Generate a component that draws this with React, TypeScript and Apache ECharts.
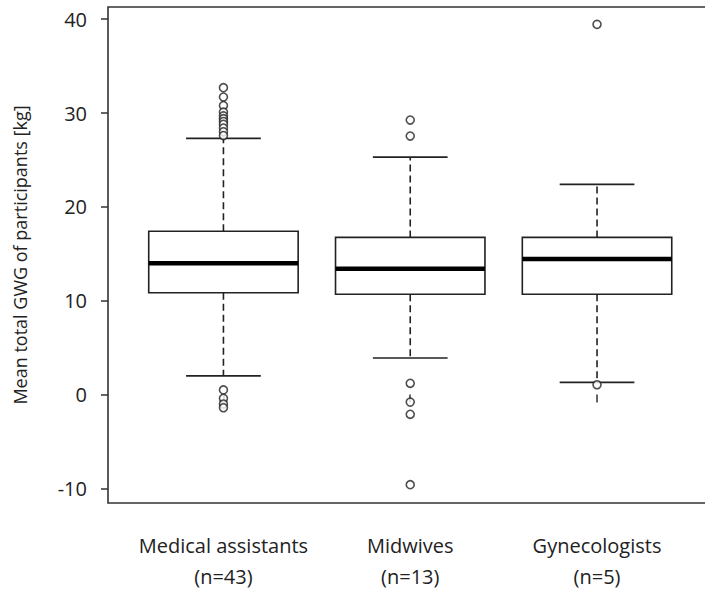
import React, { useEffect, useRef } from "react";
import * as echarts from "echarts";

const categories = ["Medical assistants\n(n=43)", "Midwives\n(n=13)", "Gynecologists\n(n=5)"];
// [lower whisker, Q1, median, Q3, upper whisker]
const boxStats = [
  [2.0, 10.85, 14.0, 17.4, 27.3],
  [3.9, 10.7, 13.4, 16.75, 25.3],
  [1.3, 10.7, 14.45, 16.75, 22.4],
];
const outliersMA = [32.7, 31.7, 30.8, 30.1, 29.7, 29.4, 29.1, 28.8, 28.4, 28.0, 27.6, 0.5, -0.4, -1.0, -1.4];
const outliersMW = [29.25, 27.55, 1.2, -0.8, -2.1, -9.6];
const outliersGY = [39.45, 1.05];
const yTicks = [-10, 0, 10, 20, 30, 40];

const INK = "#222";
const FONT = "'Open Sans', sans-serif";

const W = 705;
const H = 592;
const G_LEFT = 108;
const G_RIGHT = 0;
const G_TOP = 7;
const G_BOTTOM = 89;

export default function App() {
  const ref = useRef<HTMLDivElement>(null);
  useEffect(() => {
    if (!ref.current) return;
    const chart = echarts.init(ref.current, null, { renderer: "svg" });
    const outlierData: number[][] = [];
    [outliersMA, outliersMW, outliersGY].forEach((arr, i) =>
      arr.forEach((v) => outlierData.push([i + 1, v]))
    );
    const boxData = boxStats.map((s, i) => [i + 1, ...s]);
    const bottomY = H - G_BOTTOM;
    chart.setOption({
      animation: false,
      backgroundColor: "#fff",
      grid: { left: G_LEFT, right: G_RIGHT, top: G_TOP, bottom: G_BOTTOM },
      graphic: [
        {
          type: "polyline",
          shape: {
            points: [
              [W + 10, G_TOP],
              [G_LEFT, G_TOP],
              [G_LEFT, bottomY],
              [W + 10, bottomY],
            ],
          },
          style: { fill: null, stroke: "#333", lineWidth: 1.6 },
          z: 10,
          silent: true,
        },
      ],
      xAxis: {
        type: "value",
        min: 0.382,
        max: 3.578,
        splitLine: { show: false },
        axisLine: { show: false },
        axisTick: {
          show: true,
          customValues: [1, 2, 3],
          length: 8,
          inside: false,
          lineStyle: { color: "#333", width: 1.5 },
        },
        axisLabel: {
          customValues: [1, 2, 3],
          formatter: (v: number) => categories[Math.round(v) - 1] ?? "",
          color: INK,
          fontFamily: FONT,
          fontSize: 20,
          lineHeight: 31,
          margin: 27,
        },
      },
      yAxis: {
        type: "value",
        min: -11.55,
        max: 41.3,
        splitLine: { show: false },
        axisLine: { show: false },
        axisTick: {
          show: true,
          customValues: yTicks,
          length: 7,
          lineStyle: { color: "#333", width: 1.5 },
        },
        axisLabel: {
          customValues: yTicks,
          color: INK,
          fontFamily: FONT,
          fontSize: 20,
          margin: 21,
        },
        name: "Mean total GWG of participants [kg]",
        nameLocation: "middle",
        nameRotate: 90,
        nameGap: 79,
        nameTextStyle: { color: INK, fontFamily: FONT, fontSize: 18 },
      },
      series: [
        {
          type: "custom",
          data: boxData,
          encode: { x: 0, y: [1, 2, 3, 4, 5] },
          renderItem: (params: any, api: any) => {
            const x = api.value(0);
            const lo = api.coord([x, api.value(1)]);
            const q1 = api.coord([x, api.value(2)]);
            const md = api.coord([x, api.value(3)]);
            const q3 = api.coord([x, api.value(4)]);
            const hi = api.coord([x, api.value(5)]);
            const w = api.size([0.8, 0])[0];
            const cw = w / 2;
            const cx = lo[0];
            const dash = { stroke: INK, lineWidth: 1.6, lineDash: [7, 4] };
            const solid = { stroke: INK, lineWidth: 1.6 };
            return {
              type: "group",
              children: [
                { type: "line", shape: { x1: cx, y1: q3[1], x2: cx, y2: hi[1] }, style: dash },
                { type: "line", shape: { x1: cx, y1: q1[1], x2: cx, y2: lo[1] }, style: dash },
                { type: "line", shape: { x1: cx - cw / 2, y1: hi[1], x2: cx + cw / 2, y2: hi[1] }, style: solid },
                { type: "line", shape: { x1: cx - cw / 2, y1: lo[1], x2: cx + cw / 2, y2: lo[1] }, style: solid },
                {
                  type: "rect",
                  shape: { x: cx - w / 2, y: q3[1], width: w, height: q1[1] - q3[1] },
                  style: { stroke: INK, lineWidth: 1.6, fill: "#fff" },
                },
                { type: "line", shape: { x1: cx - w / 2, y1: md[1], x2: cx + w / 2, y2: md[1] }, style: { stroke: "#000", lineWidth: 4.5 } },
              ],
            };
          },
          z: 2,
        },
        {
          type: "scatter",
          data: outlierData,
          symbol: "circle",
          symbolSize: 8,
          itemStyle: { color: "#fff", borderColor: INK, borderWidth: 1.6 },
          z: 3,
        },
      ],
    });
    return () => chart.dispose();
  }, []);
  return (
    <div
      ref={ref}
      style={{ position: "absolute", left: 0, top: 0, width: W, height: H, overflow: "hidden" }}
    />
  );
}
